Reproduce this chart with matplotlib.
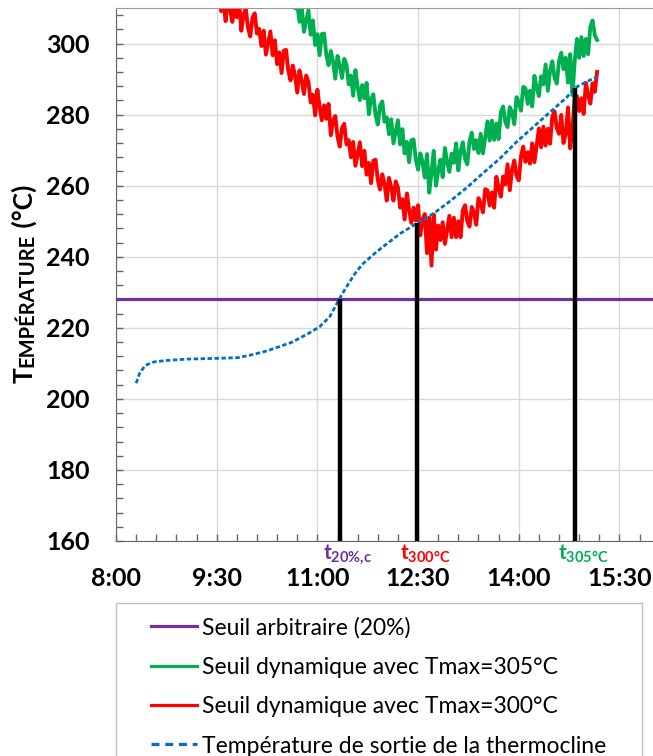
import numpy as np
import matplotlib
matplotlib.use("Agg")
import matplotlib.pyplot as plt
from matplotlib.lines import Line2D
from matplotlib.patches import Rectangle
from matplotlib.ticker import FixedLocator, MultipleLocator, FuncFormatter

plt.rcParams["font.family"] = ["Lato", "DejaVu Sans"]
plt.rcParams["mathtext.fontset"] = "custom"
plt.rcParams["mathtext.rm"] = "Lato"
plt.rcParams["mathtext.bf"] = "Lato:bold"

# --- data ---
threshold_20 = 228.0

blue_time = ["8:18", "8:21", "8:26", "8:34", "8:45", "9:04", "9:30", "9:49", "10:00",
             "10:15", "10:37", "10:52", "11:02", "11:11", "11:20", "11:25", "11:33",
             "11:40", "11:50", "11:59", "12:14", "12:29", "12:44", "12:58", "13:13",
             "13:28", "13:43", "13:58", "14:13", "14:28", "14:43", "14:50", "14:58",
             "15:10"]
blue_T = [204.4, 207.1, 209.4, 210.4, 210.8, 211.2, 211.4, 211.6, 212.3,
          213.5, 215.9, 218.4, 220.3, 223.1, 228.3, 231.0, 235.0,
          237.8, 240.6, 242.9, 246.5, 249.4, 252.2, 255.5, 259.3,
          263.5, 267.6, 272.3, 276.5, 280.7, 284.9, 287.5, 288.8,
          290.7]

# dynamic thresholds, one sample every 2 min
sample_step_min = 2
red_start = "9:32"
red_T = [314.5, 309.1, 311.7, 306.3, 313.9, 309.5, 306.1, 310.8, 307.4, 312.0,
         303.6, 308.2, 309.8, 304.4, 302.0, 307.3, 308.5, 302.8, 304.1, 299.3,
         303.6, 296.9, 300.1, 303.4, 296.7, 300.9, 294.2, 297.5, 291.7, 298.0,
         298.2, 292.4, 289.6, 293.8, 291.0, 286.2, 292.4, 289.6, 285.8, 291.0,
         289.2, 283.4, 285.6, 279.8, 287.0, 282.2, 278.4, 282.6, 278.8, 283.0,
         274.2, 278.4, 279.6, 273.8, 271.0, 276.2, 277.4, 271.6, 272.8, 268.0,
         272.3, 265.6, 268.9, 272.2, 265.5, 269.8, 263.1, 266.4, 260.7, 267.0,
         267.3, 261.6, 258.9, 263.2, 260.5, 255.8, 262.2, 259.5, 255.8, 261.2,
         259.5, 253.8, 256.2, 250.5, 257.8, 253.2, 249.5, 253.8, 250.2, 254.5,
         246.0, 250.5, 252.0, 241.0, 251.0, 237.5, 251.9, 242.0, 248.8, 244.7,
         249.7, 243.6, 247.6, 251.5, 245.5, 251.0, 245.5, 250.0, 245.5, 253.0,
         254.5, 250.0, 248.5, 254.0, 252.5, 249.0, 256.5, 255.0, 252.5, 259.0,
         258.7, 254.4, 258.1, 253.8, 262.5, 259.2, 256.9, 262.6, 260.3, 266.0,
         258.7, 264.4, 267.1, 262.8, 261.5, 268.2, 271.0, 266.7, 269.4, 266.2,
         271.9, 266.6, 271.4, 276.1, 270.8, 276.6, 271.3, 276.0, 271.8, 279.5,
         280.9, 276.2, 274.6, 279.9, 272.0, 274.6, 282.0, 270.5, 276.0, 285.0,
         285.2, 281.0, 284.6, 280.2, 288.9, 285.5, 283.1, 288.8, 286.4, 292.0]

green_start = "10:40"
green_T = [310.0, 311.1, 306.1, 310.2, 303.3, 306.3, 309.4, 302.5, 306.5, 299.6,
           302.6, 296.7, 302.7, 302.8, 296.8, 293.9, 297.9, 295.0, 290.1, 296.5,
           293.9, 290.3, 295.7, 294.1, 288.5, 291.0, 285.3, 292.5, 287.8, 284.1,
           288.3, 284.6, 288.9, 280.1, 284.4, 285.7, 279.9, 277.2, 282.5, 283.7,
           278.0, 279.2, 274.5, 278.7, 271.9, 275.2, 278.4, 271.6, 275.9, 269.1,
           272.3, 266.6, 272.8, 273.0, 267.3, 264.5, 269.1, 266.7, 262.3, 268.9,
           258.0, 263.7, 269.8, 260.0, 264.1, 267.3, 262.4, 270.6, 266.7, 263.9,
           269.0, 266.4, 271.9, 264.3, 269.7, 272.2, 267.6, 266.0, 272.5, 274.9,
           270.3, 272.8, 269.2, 274.6, 269.1, 273.5, 278.1, 272.7, 278.3, 272.9,
           277.5, 273.1, 280.7, 282.3, 277.9, 276.5, 282.1, 280.7, 277.3, 284.9,
           283.5, 281.1, 287.8, 287.4, 283.0, 286.7, 282.3, 290.9, 287.6, 285.2,
           290.8, 288.5, 294.1, 286.7, 292.4, 295.0, 290.4, 288.7, 295.1, 297.4,
           292.8, 296.0, 289.0, 297.0, 285.5, 295.0, 301.3, 296.0, 301.8, 296.5,
           301.3, 297.0, 304.8, 306.5, 302.3, 301.0]

cross_time = ["11:20", "12:29", "14:50"]
cross_T = [228.0, 249.4, 287.5]
cross_labels = [r"$\mathbf{t}_{\mathbf{20\%{,}c}}$", r"$\mathbf{t}_{\mathbf{300°C}}$",
                r"$\mathbf{t}_{\mathbf{305°C}}$"]

legend_labels = ["Seuil arbitraire (20%)", "Seuil dynamique avec Tmax=305°C",
                 "Seuil dynamique avec Tmax=300°C", "Température de sortie de la thermocline"]

purple = "#7030A0"
green = "#00B050"
red = "#FF0000"
blue = "#0070C0"
cross_colors = [purple, red, green]


def hours(s):
    h, m = s.split(":")
    return int(h) + int(m) / 60


def hhmm(x, pos):
    h = int(x + 1e-6)
    m = int(round((x - h) * 60))
    return f"{h}:{m:02d}"


blue_t = [hours(s) for s in blue_time]
red_t = hours(red_start) + np.arange(len(red_T)) * sample_step_min / 60
green_t = hours(green_start) + np.arange(len(green_T)) * sample_step_min / 60
cross_t = [hours(s) for s in cross_time]

fig = plt.figure(figsize=(6.53, 7.56), dpi=100)
ax = fig.add_axes([116 / 653, 1 - 541 / 756, 537 / 653, 533 / 756])

ax.axhline(threshold_20, color=purple, lw=2.3, zorder=3)
ax.plot(green_t, green_T, color=green, lw=2.8, zorder=2)
ax.plot(red_t, red_T, color=red, lw=2.8, zorder=2)
ax.plot(blue_t, blue_T, color=blue, lw=2.0, dashes=(1.6, 0.9), zorder=4)
ax.vlines(cross_t, 160, cross_T, color="black", lw=3.2, zorder=5)

ax.set_xlim(8, 16)
ax.set_ylim(160, 310)
ax.xaxis.set_major_locator(FixedLocator(np.arange(8, 16.01, 1.5)))
ax.xaxis.set_minor_locator(FixedLocator(np.arange(8, 16.01, 0.3)))
ax.xaxis.set_major_formatter(FuncFormatter(hhmm))
ax.yaxis.set_major_locator(MultipleLocator(20))
ax.yaxis.set_minor_locator(MultipleLocator(4))

ax.grid(True, which="major", color="#d9d9d9", lw=1.0, zorder=0)
ax.set_axisbelow(True)
ax.tick_params(which="both", direction="in", length=5, width=1, color="#666666")
ax.tick_params(axis="x", which="major", pad=19, labelsize=18)
ax.tick_params(axis="y", which="major", pad=19, labelsize=18)
for lab in ax.get_xticklabels() + ax.get_yticklabels():
    lab.set_fontweight("bold")

ax.spines["right"].set_visible(False)
ax.spines["top"].set_color("#999999")
ax.spines["left"].set_color("#666666")
ax.spines["bottom"].set_color("#666666")

for t, lab, c in zip(cross_t, cross_labels, cross_colors):
    ax.annotate(lab, xy=(t, 160), xycoords="data", xytext=(-12, -1),
                textcoords="offset points", ha="left", va="top",
                color=c, fontsize=15)

# y label with small caps look
renderer = fig.canvas.get_renderer()
parts = [("T", 19), ("EMPÉRATURE", 14.5), (" (°C)", 19)]
x0 = 33 / 653
y0 = 1 - 383 / 756
for txt, size in parts:
    t = fig.text(x0, y0, txt, rotation=90, rotation_mode="anchor",
                 ha="left", va="baseline", fontsize=size, fontweight="bold")
    ext = t.get_window_extent(renderer)
    y0 += ext.height / fig.bbox.height

# legend in a box running off the bottom
handles = [Line2D([], [], color=purple, lw=2.3),
           Line2D([], [], color=green, lw=2.3),
           Line2D([], [], color=red, lw=2.3),
           Line2D([], [], color=blue, lw=2.3, dashes=(2.5, 1.8))]
fig.legend(handles, legend_labels, loc="upper left",
           bbox_to_anchor=(151 / 653, 1 - 617 / 756), frameon=False,
           fontsize=16.5, borderpad=0, borderaxespad=0, handlelength=2.0,
           handletextpad=0.22, labelspacing=0.8)
fig.add_artist(Rectangle((116 / 653, -0.02), 526 / 653, 0.02 + 1 - 603 / 756,
                         transform=fig.transFigure, fill=False,
                         edgecolor="#bfbfbf", lw=1))

fig.savefig("out.png", dpi=100)
